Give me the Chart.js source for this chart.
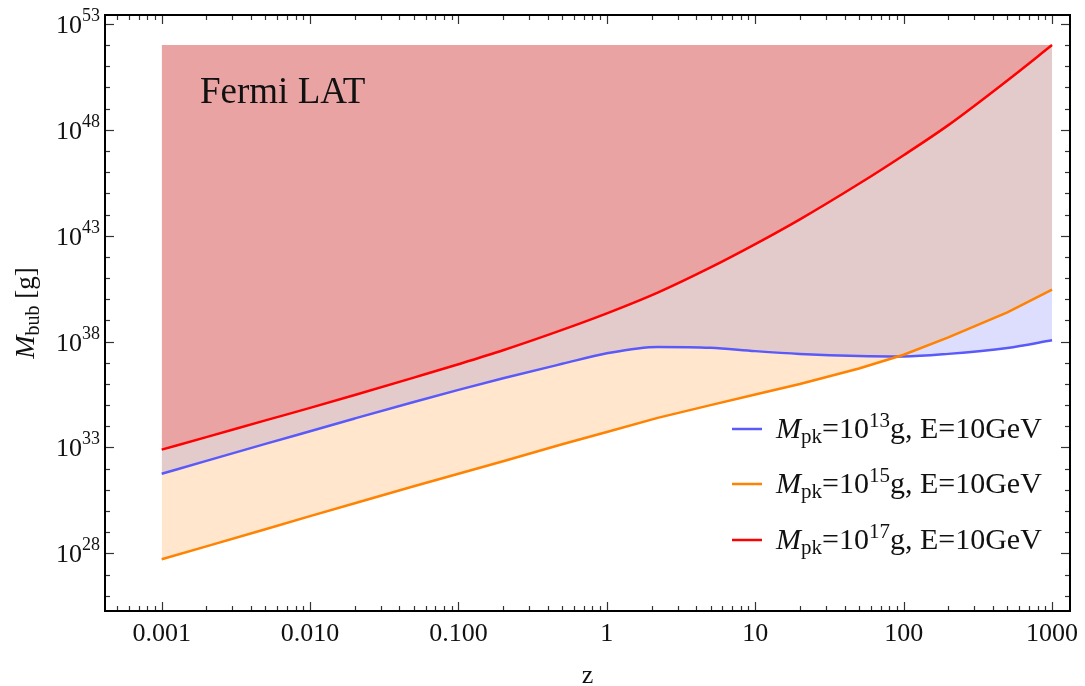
<!DOCTYPE html>
<html>
<head>
<meta charset="utf-8">
<script src="https://cdn.jsdelivr.net/npm/chart.js@4"></script>
<style>
  body { margin: 0; background: #fff; }
  canvas { display: block; }
</style>
</head>
<body>
<canvas id="grafico" width="1085" height="686"></canvas>
<script>
// redshift values (x)
const zValores = [0.001, 0.002, 0.005, 0.01, 0.02, 0.05, 0.1, 0.2, 0.5, 1, 2.2, 5, 10, 20, 50, 100, 200, 500, 1000];

// log10 of M_bub [g]
const expAzul = [31.76, 32.37, 33.17, 33.77, 34.37, 35.15, 35.72, 36.27, 36.95, 37.45, 37.75, 37.71, 37.55, 37.42, 37.32, 37.3, 37.42, 37.7, 38.06];
const expLaranja = [27.72, 28.33, 29.14, 29.76, 30.37, 31.17, 31.76, 32.35, 33.15, 33.73, 34.4, 35.0, 35.5, 36.0, 36.73, 37.38, 38.2, 39.38, 40.45];
const expVermelho = [32.9, 33.49, 34.28, 34.87, 35.48, 36.3, 36.93, 37.59, 38.55, 39.33, 40.31, 41.5, 42.6, 43.77, 45.45, 46.8, 48.22, 50.33, 52.0];

const topoPreenchimento = 1e52;

// ticks
const xMaiores = [0.001, 0.01, 0.1, 1, 10, 100, 1000];
const xRotulos = ["0.001", "0.010", "0.100", "1", "10", "100", "1000"];
const yExpMaiores = [28, 33, 38, 43, 48, 53];

const legendaExp = ["13", "15", "17"];

function pontos(exps) {
  return zValores.map((z, i) => ({ x: z, y: Math.pow(10, exps[i]) }));
}

const serif = '"Liberation Serif", "DejaVu Serif", serif';

const eixosPlugin = {
  id: "eixos",
  afterDraw(chart) {
    const ctx = chart.ctx;
    const a = chart.chartArea;
    const sx = chart.scales.x;
    const sy = chart.scales.y;
    ctx.save();

    // ticks
    ctx.strokeStyle = "#333";
    ctx.lineWidth = 1.2;
    const linha = (x1, y1, x2, y2) => {
      ctx.beginPath();
      ctx.moveTo(x1, y1);
      ctx.lineTo(x2, y2);
      ctx.stroke();
    };
    for (let e = -4; e <= 3; e++) {
      for (let m = 1; m <= 9; m++) {
        const v = m * Math.pow(10, e);
        if (v < sx.min || v > sx.max) continue;
        const px = Math.round(sx.getPixelForValue(v)) + 0.5;
        const len = m === 1 ? 9 : 5;
        linha(px, a.bottom, px, a.bottom - len);
        linha(px, a.top, px, a.top + len);
      }
    }
    for (let e = 26; e <= 53; e++) {
      const py = Math.round(sy.getPixelForValue(Math.pow(10, e))) + 0.5;
      const len = yExpMaiores.includes(e) ? 9 : 5;
      linha(a.left, py, a.left + len, py);
      linha(a.right, py, a.right - len, py);
    }

    // frame
    ctx.strokeStyle = "#000";
    ctx.lineWidth = 2;
    ctx.strokeRect(a.left, a.top, a.right - a.left, a.bottom - a.top);

    ctx.fillStyle = "#111";
    // x labels
    ctx.font = "26px " + serif;
    ctx.textAlign = "center";
    ctx.textBaseline = "alphabetic";
    xMaiores.forEach((v, i) => {
      ctx.fillText(xRotulos[i], sx.getPixelForValue(v), 641);
    });
    ctx.fillText("z", (a.left + a.right) / 2, 683);

    // y labels 10^n
    ctx.textAlign = "left";
    yExpMaiores.forEach((e) => {
      const py = sy.getPixelForValue(Math.pow(10, e));
      ctx.font = "18px " + serif;
      const wSup = ctx.measureText(String(e)).width;
      ctx.font = "26px " + serif;
      const wBase = ctx.measureText("10").width;
      const x0 = 100 - wSup - wBase;
      ctx.fillText("10", x0, py + 9);
      ctx.font = "18px " + serif;
      ctx.fillText(String(e), x0 + wBase, py - 3);
    });

    // y title
    ctx.save();
    ctx.translate(34, (a.top + a.bottom) / 2);
    ctx.rotate(-Math.PI / 2);
    const partes = [
      { t: "M", f: "italic 28px " + serif, dy: 0 },
      { t: "bub", f: "20px " + serif, dy: 5 },
      { t: " [g]", f: "27px " + serif, dy: 0 },
    ];
    let total = 0;
    partes.forEach((p) => { ctx.font = p.f; total += ctx.measureText(p.t).width; });
    let cx = -total / 2;
    partes.forEach((p) => {
      ctx.font = p.f;
      ctx.fillText(p.t, cx, p.dy);
      cx += ctx.measureText(p.t).width;
    });
    ctx.restore();

    // Fermi LAT
    ctx.font = "37px " + serif;
    ctx.fillText("Fermi LAT", 200, 103);

    // legend (blue, orange, red)
    const ys = [429, 484, 540];
    const cores = ["rgb(90, 90, 250)", "rgb(255, 130, 0)", "rgb(255, 0, 0)"];
    ys.forEach((y, i) => {
      ctx.strokeStyle = cores[i];
      ctx.lineWidth = 2.5;
      linha(732, y, 762, y);
      let x = 776;
      const itens = [
        { t: "M", f: "italic 30px " + serif, dy: 0 },
        { t: "pk", f: "21px " + serif, dy: 5 },
        { t: "=10", f: "30px " + serif, dy: 0 },
        { t: legendaExp[i], f: "21px " + serif, dy: -11 },
        { t: "g, E=10GeV", f: "30px " + serif, dy: 0 },
      ];
      itens.forEach((p) => {
        ctx.font = p.f;
        ctx.fillText(p.t, x, y + 9 + p.dy);
        x += ctx.measureText(p.t).width;
      });
    });

    ctx.restore();
  },
};

new Chart(document.getElementById("grafico"), {
  type: "line",
  data: {
    datasets: [
      {
        label: "M_pk=10^13g, E=10GeV",
        data: pontos(expAzul),
        borderColor: "rgb(90, 90, 250)",
        backgroundColor: "rgba(85, 85, 245, 0.2)",
        borderWidth: 2.5,
        pointRadius: 0,
        cubicInterpolationMode: "monotone",
        fill: { value: topoPreenchimento },
        order: 3,
      },
      {
        label: "M_pk=10^15g, E=10GeV",
        data: pontos(expLaranja),
        borderColor: "rgb(255, 130, 0)",
        backgroundColor: "rgba(255, 128, 0, 0.2)",
        borderWidth: 2.5,
        pointRadius: 0,
        tension: 0,
        fill: { value: topoPreenchimento },
        order: 2,
      },
      {
        label: "M_pk=10^17g, E=10GeV",
        data: pontos(expVermelho),
        borderColor: "rgb(255, 0, 0)",
        backgroundColor: "rgba(255, 0, 0, 0.2)",
        borderWidth: 2.5,
        pointRadius: 0,
        cubicInterpolationMode: "monotone",
        fill: { value: topoPreenchimento },
        order: 1,
      },
    ],
  },
  options: {
    responsive: false,
    animation: false,
    devicePixelRatio: 1,
    layout: { padding: { left: 105, top: 15, right: 15, bottom: 75 } },
    plugins: {
      legend: { display: false },
      tooltip: { enabled: false },
      filler: { drawTime: "beforeDatasetsDraw" },
    },
    scales: {
      x: {
        type: "logarithmic",
        min: Math.pow(10, -3.382),
        max: Math.pow(10, 3.121),
        display: false,
      },
      y: {
        type: "logarithmic",
        min: Math.pow(10, 25.28),
        max: Math.pow(10, 53.42),
        display: false,
      },
    },
  },
  plugins: [eixosPlugin],
});
</script>
</body>
</html>
